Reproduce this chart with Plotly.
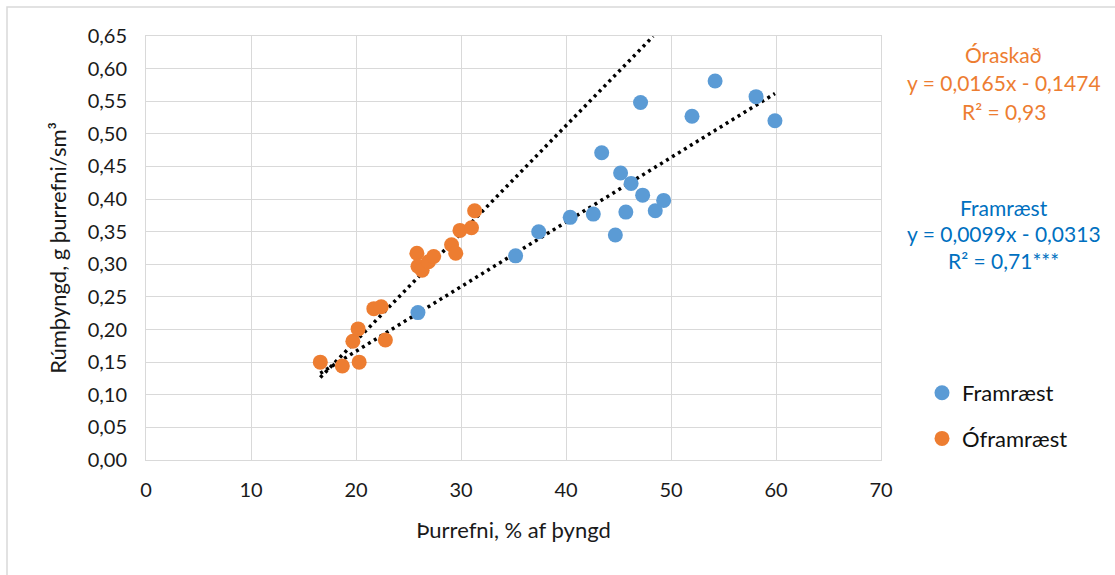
import plotly.graph_objects as go

# Framræst (drained) samples: dry matter % vs. bulk density
framraest_x = [25.9, 35.2, 37.4, 40.4, 42.6, 43.4, 44.7, 45.2, 45.7, 46.2, 47.1, 47.3, 48.5, 49.3, 52.0, 54.2, 58.1, 59.9]
framraest_y = [0.226, 0.313, 0.350, 0.372, 0.377, 0.471, 0.345, 0.440, 0.380, 0.424, 0.548, 0.406, 0.382, 0.398, 0.527, 0.581, 0.557, 0.520]

# Óframræst (undrained) samples
oframraest_x = [16.6, 18.7, 19.7, 20.2, 20.3, 21.7, 22.4, 22.8, 25.8, 25.9, 26.3, 26.9, 27.4, 29.1, 29.5, 29.9, 31.0, 31.3]
oframraest_y = [0.150, 0.144, 0.182, 0.201, 0.150, 0.232, 0.235, 0.184, 0.317, 0.297, 0.291, 0.304, 0.312, 0.330, 0.317, 0.352, 0.356, 0.382]

# Linear fits (slope, intercept) and the x-span each fitted line covers
fit_oraskad = (0.0165, -0.1474)
fit_framraest = (0.0099, -0.0313)
span_oraskad = [16.6, 48.3]
span_framraest = [16.6, 59.9]

x_ticks = [0, 10, 20, 30, 40, 50, 60, 70]

BLUE = "#5B9BD5"
ORANGE = "#ED7D31"
BLUE_TEXT = "#0070C0"
GRID = "#D9D9D9"
FONT = "Lato"


def line_from_fit(fit, span):
    a, b = fit
    return span, [a * x + b for x in span]


fig = go.Figure()

ox, oy = line_from_fit(fit_oraskad, span_oraskad)
bx, by = line_from_fit(fit_framraest, span_framraest)
for lx, ly in ((ox, oy), (bx, by)):
    fig.add_trace(go.Scatter(
        x=lx, y=ly, mode="lines", showlegend=False, hoverinfo="skip",
        line=dict(color="black", width=3.5, dash="3px,4px"),
    ))

fig.add_trace(go.Scatter(
    x=framraest_x, y=framraest_y, mode="markers", name="Framræst",
    legendgroup="a", marker=dict(color=BLUE, size=15, line=dict(width=0)),
))
fig.add_trace(go.Scatter(
    x=oframraest_x, y=oframraest_y, mode="markers", name="Óframræst",
    legendgroup="b", marker=dict(color=ORANGE, size=15, line=dict(width=0)),
))

# Paper coordinates: plot area spans 735 x 424 px
def px(xpix):
    return (xpix - 146) / 735


def py(ypix):
    return (460 - ypix) / 424


labels = [
    ("Óraskað", 55, ORANGE),
    ("y = 0,0165x - 0,1474", 83, ORANGE),
    ("R² = 0,93", 112, ORANGE),
    ("Framræst", 207, BLUE_TEXT),
    ("y = 0,0099x - 0,0313", 233, BLUE_TEXT),
    ("R² = 0,71***", 260, BLUE_TEXT),
]
annotations = [
    dict(text=t, x=px(1003.5), y=py(yy), xref="paper", yref="paper",
         xanchor="center", yanchor="middle", showarrow=False,
         font=dict(family=FONT, size=21, color=c))
    for t, yy, c in labels
]

fig.update_layout(
    width=1115, height=575,
    margin=dict(l=146, r=234, t=36, b=115),
    paper_bgcolor="white", plot_bgcolor="white",
    separators=", ",
    font=dict(family=FONT, size=20, color="#1a1a1a"),
    annotations=annotations,
    showlegend=True,
    legend=dict(x=px(922), y=py(372), xanchor="left", yanchor="top",
                font=dict(family=FONT, size=22, color="#111"),
                tracegroupgap=14, bgcolor="rgba(0,0,0,0)"),
    shapes=[dict(type="rect", xref="paper", yref="paper",
                 x0=px(7), x1=px(1130), y0=py(590), y1=py(7),
                 line=dict(color=GRID, width=1.5), layer="below")],
)

fig.update_xaxes(
    range=[0, 70], tickvals=x_ticks, showgrid=True, gridcolor=GRID, gridwidth=1,
    zeroline=False, showline=True, linecolor=GRID, linewidth=1, mirror=True,
    ticks="outside", ticklen=12, tickcolor="rgba(0,0,0,0)",
    title=dict(text="Þurrefni, % af þyngd", font=dict(family=FONT, size=22), standoff=22),
)
fig.update_yaxes(
    range=[0, 0.65], dtick=0.05, tickformat=".2f", showgrid=True, gridcolor=GRID,
    gridwidth=1, zeroline=False, showline=True, linecolor=GRID, linewidth=1, mirror=True,
    ticks="outside", ticklen=14, tickcolor="rgba(0,0,0,0)",
    title=dict(text="Rúmþyngd, g þurrefni/sm³", font=dict(family=FONT, size=22), standoff=14),
)

fig.write_html("out.html")
